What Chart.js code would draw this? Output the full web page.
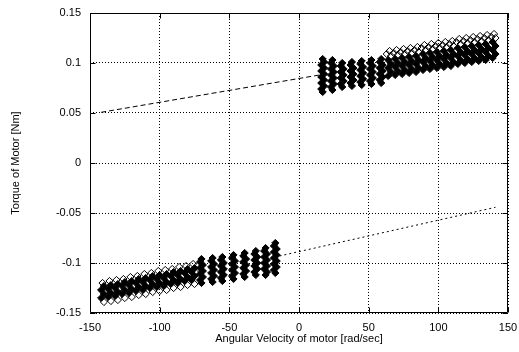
<!DOCTYPE html>
<html>
<head>
<meta charset="utf-8">
<script src="https://cdn.jsdelivr.net/npm/chart.js@4/dist/chart.umd.min.js"></script>
<style>
html,body{margin:0;padding:0;background:#fff;}
canvas{display:block;}
</style>
</head>
<body>
<canvas id="c" width="519" height="352"></canvas>
<script>
// Angular velocity [rad/sec], torque [Nm] samples - negative rotation, densely overlapping cores
const negCore = [
[-142,-0.135],[-140,-0.131],[-142,-0.127],[-140,-0.123],
[-137,-0.134],[-135,-0.130],[-137,-0.126],[-135,-0.122],
[-132,-0.133],[-130,-0.129],[-132,-0.125],[-130,-0.121],
[-127,-0.131],[-125,-0.127],[-127,-0.123],[-125,-0.119],
[-122,-0.130],[-120,-0.126],[-122,-0.122],[-120,-0.118],
[-117,-0.128],[-115,-0.124],[-117,-0.120],[-115,-0.116],
[-112,-0.127],[-110,-0.123],[-112,-0.119],[-110,-0.115],
[-107,-0.125],[-105,-0.121],[-107,-0.117],[-105,-0.113],
[-102,-0.124],[-100,-0.120],[-102,-0.116],[-100,-0.112],
[-97,-0.123],[-95,-0.119],[-97,-0.115],[-95,-0.111],
[-92,-0.121],[-90,-0.117],[-92,-0.113],[-90,-0.109],
[-87,-0.120],[-85,-0.116],[-87,-0.112],[-85,-0.108],
[-82,-0.118],[-80,-0.114],[-82,-0.110],[-80,-0.106],
[-77,-0.117],[-75,-0.113],[-77,-0.109],[-75,-0.105],
[-70,-0.096],[-71,-0.099],[-69,-0.102],[-71,-0.105],[-69,-0.108],[-71,-0.111],[-69,-0.114],[-71,-0.117],[-70,-0.120],
[-62,-0.095],[-63,-0.098],[-61,-0.101],[-63,-0.104],[-61,-0.107],[-63,-0.110],[-61,-0.113],[-63,-0.116],[-62,-0.119],
[-55,-0.094],[-56,-0.097],[-54,-0.100],[-56,-0.103],[-54,-0.106],[-56,-0.109],[-54,-0.112],[-56,-0.115],[-55,-0.118],
[-47,-0.092],[-48,-0.095],[-46,-0.098],[-48,-0.101],[-46,-0.104],[-48,-0.107],[-46,-0.110],[-48,-0.113],[-47,-0.116],
[-39,-0.090],[-40,-0.093],[-38,-0.096],[-40,-0.099],[-38,-0.102],[-40,-0.105],[-38,-0.108],[-40,-0.111],[-39,-0.114],
[-31,-0.088],[-32,-0.091],[-30,-0.094],[-32,-0.097],[-30,-0.100],[-32,-0.103],[-30,-0.106],[-32,-0.109],[-31,-0.112],
[-24,-0.085],[-25,-0.088],[-23,-0.091],[-25,-0.094],[-23,-0.097],[-25,-0.100],[-23,-0.103],[-25,-0.106],[-23,-0.109],[-24,-0.112],
[-17,-0.080],[-18,-0.083],[-16,-0.086],[-18,-0.089],[-16,-0.092],[-18,-0.095],[-16,-0.098],[-18,-0.101],[-16,-0.104],[-18,-0.107],[-17,-0.110]
];
// negative rotation, scattered outer samples
const negEdge = [
[-140,-0.139],[-141,-0.120],[-139,-0.128],
[-135,-0.138],[-136,-0.118],[-134,-0.127],
[-130,-0.137],[-131,-0.117],[-129,-0.125],
[-125,-0.135],[-126,-0.116],[-124,-0.124],
[-120,-0.134],[-121,-0.114],[-119,-0.123],
[-115,-0.132],[-116,-0.113],[-114,-0.121],
[-110,-0.131],[-111,-0.111],[-109,-0.120],
[-105,-0.129],[-106,-0.110],[-104,-0.118],
[-100,-0.128],[-101,-0.108],[-99,-0.117],
[-95,-0.127],[-96,-0.107],[-94,-0.116],
[-90,-0.125],[-91,-0.106],[-89,-0.114],
[-85,-0.124],[-86,-0.104],[-84,-0.113],
[-80,-0.122],[-81,-0.103],[-79,-0.111],
[-75,-0.121],[-76,-0.101],[-74,-0.110]
];
// positive rotation, dense cores
const posCore = [
[17,0.071],[16,0.074],[18,0.077],[16,0.080],[18,0.083],[16,0.086],[18,0.089],[16,0.092],[18,0.095],[16,0.098],[18,0.101],[17,0.104],
[24,0.073],[23,0.076],[25,0.079],[23,0.082],[25,0.085],[23,0.088],[25,0.091],[23,0.094],[25,0.097],[23,0.100],[24,0.103],
[31,0.076],[30,0.079],[32,0.082],[30,0.085],[32,0.088],[30,0.091],[32,0.094],[30,0.097],[31,0.100],
[38,0.077],[37,0.080],[39,0.083],[37,0.086],[39,0.089],[37,0.092],[39,0.095],[37,0.098],[38,0.101],
[45,0.078],[44,0.081],[46,0.084],[44,0.087],[46,0.090],[44,0.093],[46,0.096],[44,0.099],[45,0.102],
[52,0.079],[51,0.082],[53,0.085],[51,0.088],[53,0.091],[51,0.094],[53,0.097],[51,0.100],[52,0.103],
[59,0.080],[58,0.083],[60,0.086],[58,0.089],[60,0.092],[58,0.095],[60,0.098],[58,0.101],[59,0.104],
[64,0.087],[66,0.091],[64,0.095],[66,0.099],[64,0.103],
[69,0.088],[71,0.092],[69,0.096],[71,0.100],[69,0.104],
[74,0.089],[76,0.093],[74,0.097],[76,0.101],[74,0.105],
[79,0.090],[81,0.094],[79,0.098],[81,0.102],[79,0.106],
[84,0.091],[86,0.095],[84,0.099],[86,0.103],[84,0.107],
[89,0.093],[91,0.097],[89,0.101],[91,0.105],[89,0.109],
[94,0.094],[96,0.098],[94,0.102],[96,0.106],[94,0.110],
[99,0.095],[101,0.099],[99,0.103],[101,0.107],[99,0.111],
[104,0.096],[106,0.100],[104,0.104],[106,0.108],[104,0.112],
[109,0.097],[111,0.101],[109,0.105],[111,0.109],[109,0.113],
[114,0.099],[116,0.103],[114,0.107],[116,0.111],[114,0.115],
[119,0.100],[121,0.104],[119,0.108],[121,0.112],[119,0.116],
[124,0.101],[126,0.105],[124,0.109],[126,0.113],[124,0.117],
[129,0.102],[131,0.106],[129,0.110],[131,0.114],[129,0.118],
[134,0.103],[136,0.107],[134,0.111],[136,0.115],[134,0.119],
[139,0.105],[141,0.109],[139,0.113],[141,0.117],[139,0.121]
];
// positive rotation, scattered outer samples
const posEdge = [
[66,0.107],[65,0.112],[63,0.109],
[71,0.108],[70,0.113],[68,0.110],
[76,0.109],[75,0.114],[73,0.111],
[81,0.110],[80,0.115],[78,0.112],
[86,0.111],[85,0.116],[83,0.113],
[91,0.113],[90,0.118],[88,0.115],
[96,0.114],[95,0.119],[93,0.116],
[101,0.115],[100,0.120],[98,0.117],
[106,0.116],[105,0.121],[103,0.118],
[111,0.117],[110,0.122],[108,0.119],
[116,0.119],[115,0.124],[113,0.121],
[121,0.120],[120,0.125],[118,0.122],
[126,0.121],[125,0.126],[123,0.123],
[131,0.122],[130,0.127],[128,0.124],
[136,0.123],[135,0.128],[133,0.125],
[141,0.125],[140,0.129],[138,0.126]
];
// fitted model line end points
const fitPosX = [-142, 18];
const fitPosY = [0.0507, 0.0888];
const fitNegX = [-14, 141];
const fitNegY = [-0.0930, -0.0443];

const xTicks = [-150, -100, -50, 0, 50, 100, 150];
const xTickLabels = ['-150', '-100', '-50', '0', '50', '100', '150'];
const yTicks = [-0.15, -0.1, -0.05, 0, 0.05, 0.1, 0.15];
const yTickLabels = ['-0.15', '-0.1', '-0.05', '0', '0.05', '0.1', '0.15'];

const xTitle = 'Angular Velocity of motor [rad/sec]';
const yTitle = 'Torque of Motor [Nm]';

const toPts = arr => arr.map(p => ({x: p[0], y: p[1]}));
const linePts = (xs, ys) => xs.map((x, i) => ({x: x, y: ys[i]}));

const FONT = {family: '"Liberation Sans", Arial, Helvetica, sans-serif', size: 11};

const frame = {
  id: 'frame',
  afterDraw(chart) {
    const {ctx, chartArea: a, scales} = chart;
    ctx.save();
    ctx.strokeStyle = '#000';
    ctx.lineWidth = 1;
    ctx.setLineDash([]);
    ctx.beginPath();
    const L = Math.round(a.left) + 0.5, R = Math.round(a.right) - 0.5;
    const T = Math.round(a.top) + 0.5, B = Math.round(a.bottom) - 0.5;
    ctx.rect(L, T, R - L, B - T);
    const tl = 5;
    xTicks.forEach(v => {
      const px = Math.round(scales.x.getPixelForValue(v)) + 0.5;
      ctx.moveTo(px, B); ctx.lineTo(px, B - tl);
      ctx.moveTo(px, T); ctx.lineTo(px, T + tl);
    });
    yTicks.forEach(v => {
      const py = Math.round(scales.y.getPixelForValue(v)) + 0.5;
      ctx.moveTo(L, py); ctx.lineTo(L + tl, py);
      ctx.moveTo(R, py); ctx.lineTo(R - tl, py);
    });
    ctx.stroke();
    ctx.restore();
  }
};

const filled = {pointStyle: 'rectRot', pointRadius: 3.6, borderWidth: 1, borderColor: '#000', backgroundColor: '#000', showLine: false};
const hollow = {pointStyle: 'rectRot', pointRadius: 3.6, borderWidth: 1, borderColor: '#000', backgroundColor: 'rgba(0,0,0,0)', showLine: false};

new Chart(document.getElementById('c'), {
  type: 'scatter',
  data: {
    datasets: [
      Object.assign({data: toPts(negCore)}, filled),
      Object.assign({data: toPts(posCore)}, filled),
      Object.assign({data: toPts(negEdge)}, hollow),
      Object.assign({data: toPts(posEdge)}, hollow),
      {
        data: linePts(fitPosX, fitPosY), showLine: true, pointRadius: 0,
        borderColor: '#000', borderWidth: 1, borderDash: [5, 3], fill: false
      },
      {
        data: linePts(fitNegX, fitNegY), showLine: true, pointRadius: 0,
        borderColor: '#000', borderWidth: 1, borderDash: [2, 3], fill: false
      }
    ]
  },
  options: {
    responsive: false,
    animation: false,
    devicePixelRatio: 1,
    layout: {padding: {left: 0, top: 13, right: 11, bottom: 0}},
    plugins: {legend: {display: false}, tooltip: {enabled: false}},
    scales: {
      x: {
        type: 'linear', min: -150, max: 150,
        afterBuildTicks: s => { s.ticks = xTicks.map(v => ({value: v})); },
        afterFit: s => { s.height = 39; s.paddingLeft = 0; s.paddingRight = 0; },
        border: {display: false, dash: [1, 2]},
        grid: {color: '#000', lineWidth: 1, drawTicks: false},
        ticks: {
          color: '#000', font: FONT, padding: 8, maxRotation: 0,
          callback: v => { const i = xTicks.indexOf(v); return i >= 0 ? xTickLabels[i] : ''; }
        },
        title: {display: true, text: xTitle, color: '#000', font: FONT, padding: {top: 0, bottom: 6}}
      },
      y: {
        type: 'linear', min: -0.15, max: 0.15,
        afterBuildTicks: s => { s.ticks = yTicks.map(v => ({value: v})); },
        afterFit: s => { s.width = 90; s.paddingTop = 0; s.paddingBottom = 0; },
        border: {display: false, dash: [1, 2]},
        grid: {color: '#000', lineWidth: 1, drawTicks: false},
        ticks: {
          color: '#000', font: FONT, padding: 9,
          callback: v => { const i = yTicks.findIndex(t => Math.abs(t - v) < 1e-9); return i >= 0 ? yTickLabels[i] : ''; }
        },
        title: {display: true, text: yTitle, color: '#000', font: FONT, padding: {top: 9, bottom: 0}}
      }
    }
  },
  plugins: [frame]
});
</script>
</body>
</html>
